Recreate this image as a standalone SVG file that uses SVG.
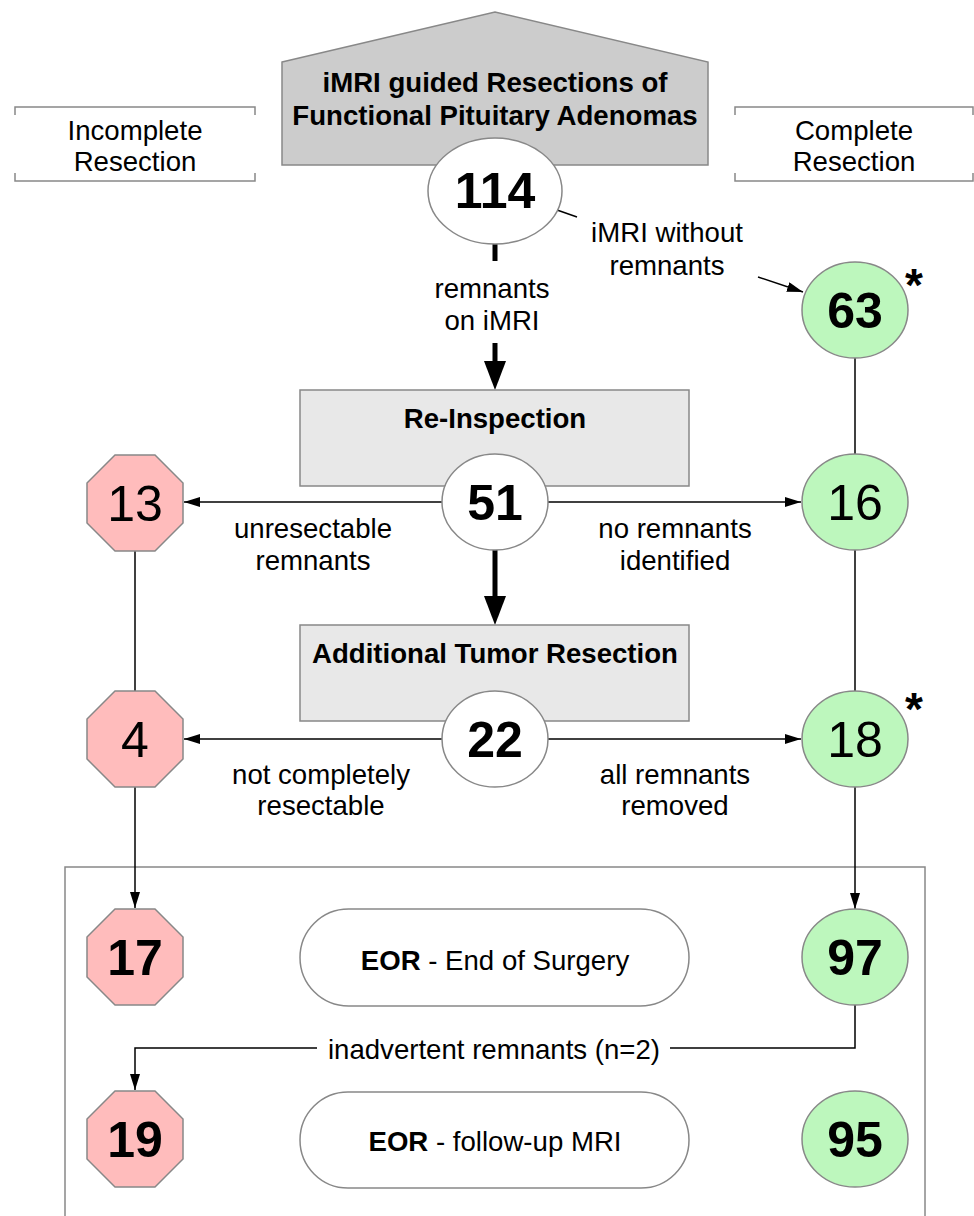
<svg xmlns="http://www.w3.org/2000/svg" width="974" height="1216" viewBox="0 0 974 1216">
<defs>
<style>
text{font-family:"Liberation Sans",Arial,Helvetica,sans-serif;fill:#000;text-anchor:middle}
.lbl{font-size:27.6px}
.bt{font-size:27.6px;font-weight:bold}
.num{font-size:50px;font-weight:bold}
.numr{font-size:50px}
.star{font-size:46px;font-weight:bold}
.shape{stroke:#888;stroke-width:1.5}
.oct{fill:#ffbcbc;stroke:#888;stroke-width:1.5}
.grn{fill:#bdf7bd;stroke:#888;stroke-width:1.5}
.wht{fill:#fff;stroke:#888;stroke-width:1.5}
.box{fill:#e8e8e8;stroke:#888;stroke-width:1.5}
.br{fill:none;stroke:#888;stroke-width:1.5}
.c{fill:none;stroke:#000;stroke-width:1.5}
.ca{fill:none;stroke:#000;stroke-width:1.5;marker-end:url(#ah)}
.ct{fill:none;stroke:#000;stroke-width:5}
.cta{fill:none;stroke:#000;stroke-width:5;marker-end:url(#aht)}
</style>
<marker id="ah" markerUnits="userSpaceOnUse" markerWidth="16" markerHeight="10" refX="16" refY="5" orient="auto"><path d="M0,0 L16,5 L0,10 z" fill="#000"/></marker>
<marker id="aht" markerUnits="userSpaceOnUse" markerWidth="29" markerHeight="22" refX="0" refY="11" orient="auto"><path d="M0,0 L29,11 L0,22 z" fill="#000"/></marker>
</defs>
<rect width="974" height="1216" fill="#fff"/>

<g id="frame"><rect x="65" y="867" width="860" height="370" fill="none" stroke="#888" stroke-width="1.5"/></g>

<g id="brackets">
<path class="br" d="M15,115 V107 H255 V115 M15,173 V181 H255 V173"/>
<text class="lbl" x="135" y="140">Incomplete</text>
<text class="lbl" x="135" y="171">Resection</text>
<path class="br" d="M735,115 V107 H973 V115 M735,173 V181 H973 V173"/>
<text class="lbl" x="854" y="140">Complete</text>
<text class="lbl" x="854" y="171">Resection</text>
</g>

<g id="connectors">
<line class="ct" x1="495" y1="243" x2="495" y2="261"/>
<line class="cta" x1="495" y1="343" x2="495" y2="361"/>
<line class="c" x1="557" y1="210" x2="577" y2="217"/>
<line class="ca" x1="758" y1="277" x2="803" y2="292"/>
<line class="c" x1="855" y1="358" x2="855" y2="454"/>
<line class="ca" x1="442" y1="502" x2="184" y2="502"/>
<line class="ca" x1="548" y1="502" x2="801" y2="502"/>
<line class="cta" x1="495" y1="550" x2="495" y2="596"/>
<line class="c" x1="135" y1="551" x2="135" y2="691"/>
<line class="c" x1="855" y1="550" x2="855" y2="691"/>
<line class="ca" x1="442" y1="739" x2="184" y2="739"/>
<line class="ca" x1="548" y1="739" x2="801" y2="739"/>
<line class="ca" x1="135" y1="787" x2="135" y2="908"/>
<line class="ca" x1="855" y1="787" x2="855" y2="909"/>
<path class="c" d="M855,1005 V1048 H670"/>
<path class="ca" d="M317,1048 H135 V1090"/>
<text class="lbl" x="494" y="1059">inadvertent remnants (n=2)</text>
<text class="lbl" x="492" y="298">remnants</text>
<text class="lbl" x="492" y="330">on iMRI</text>
<text class="lbl" x="667" y="242">iMRI without</text>
<text class="lbl" x="667" y="275">remnants</text>
<text class="lbl" x="313" y="538">unresectable</text>
<text class="lbl" x="313" y="570">remnants</text>
<text class="lbl" x="675" y="538">no remnants</text>
<text class="lbl" x="675" y="570">identified</text>
<text class="lbl" x="321" y="784">not completely</text>
<text class="lbl" x="321" y="815">resectable</text>
<text class="lbl" x="675" y="784">all remnants</text>
<text class="lbl" x="675" y="815">removed</text>
</g>

<g id="n-title">
<polygon points="282,62 495,12 708,62 708,165 282,165" fill="#cccccc" stroke="#888" stroke-width="1.5"/>
<text class="bt" x="495" y="92">iMRI guided Resections of</text>
<text class="bt" x="495" y="125">Functional Pituitary Adenomas</text>
</g>
<g id="n-114">
<ellipse class="wht" cx="495" cy="191" rx="67" ry="53"/>
<text class="num" x="495" y="208">114</text>
</g>
<g id="n-63">
<ellipse class="grn" cx="855" cy="310" rx="53" ry="48"/>
<text class="num" x="855" y="328">63</text>
<text class="star" x="914" y="301">*</text>
</g>
<g id="n-reinspection">
<rect class="box" x="300" y="390" width="389" height="96"/>
<text class="bt" x="495" y="428">Re-Inspection</text>
</g>
<g id="n-51">
<ellipse class="wht" cx="495" cy="502" rx="53" ry="48"/>
<text class="num" x="495" y="520">51</text>
</g>
<g id="n-13">
<polygon class="oct" points="115,455 155,455 183,483 183,523 155,551 115,551 87,523 87,483"/>
<text class="numr" x="135" y="521">13</text>
</g>
<g id="n-16">
<ellipse class="grn" cx="855" cy="502" rx="53" ry="48"/>
<text class="numr" x="855" y="520">16</text>
</g>
<g id="n-additional">
<rect class="box" x="300" y="625" width="389" height="96"/>
<text class="bt" x="495" y="663">Additional Tumor Resection</text>
</g>
<g id="n-22">
<ellipse class="wht" cx="495" cy="739" rx="53" ry="48"/>
<text class="num" x="495" y="757">22</text>
</g>
<g id="n-4">
<polygon class="oct" points="115,691 155,691 183,719 183,759 155,787 115,787 87,759 87,719"/>
<text class="numr" x="135" y="757">4</text>
</g>
<g id="n-18">
<ellipse class="grn" cx="855" cy="739" rx="53" ry="48"/>
<text class="numr" x="855" y="757">18</text>
<text class="star" x="914" y="725">*</text>
</g>
<g id="n-17">
<polygon class="oct" points="115,909 155,909 183,937 183,977 155,1005 115,1005 87,977 87,937"/>
<text class="num" x="135" y="975">17</text>
</g>
<g id="n-eor1">
<rect class="wht" x="300" y="909" width="389" height="97" rx="48.5"/>
<text class="lbl" x="495" y="970"><tspan font-weight="bold">EOR</tspan> - End of Surgery</text>
</g>
<g id="n-97">
<ellipse class="grn" cx="855" cy="957" rx="53" ry="48"/>
<text class="num" x="855" y="975">97</text>
</g>
<g id="n-19">
<polygon class="oct" points="115,1091 155,1091 183,1119 183,1159 155,1187 115,1187 87,1159 87,1119"/>
<text class="num" x="135" y="1157">19</text>
</g>
<g id="n-eor2">
<rect class="wht" x="300" y="1092" width="389" height="96" rx="48"/>
<text class="lbl" x="495" y="1151"><tspan font-weight="bold">EOR</tspan> - follow-up MRI</text>
</g>
<g id="n-95">
<ellipse class="grn" cx="855" cy="1139" rx="53" ry="48"/>
<text class="num" x="855" y="1157">95</text>
</g>
</svg>
